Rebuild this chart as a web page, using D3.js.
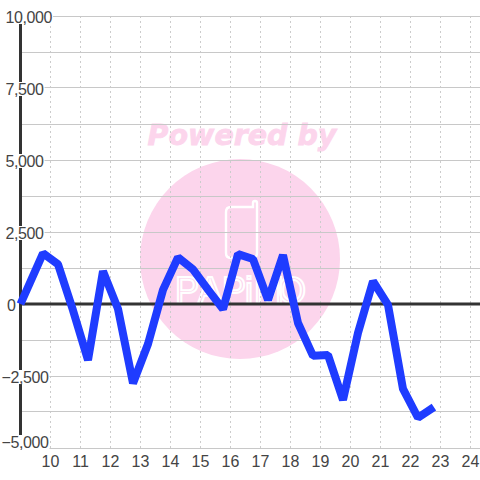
<!DOCTYPE html>
<html><head><meta charset="utf-8">
<style>html,body{margin:0;padding:0;background:#fff}svg{display:block}</style>
<script src="https://cdn.jsdelivr.net/npm/d3@7/dist/d3.min.js"></script></head>
<body><svg id="c" width="480" height="480"></svg>
<script>
const xTicks=[10,11,12,13,14,15,16,17,18,19,20,21,22,23,24];
const yLabels=[10000,7500,5000,2500,0,-2500,-5000];
const yGrid=[10000,8750,7500,6250,5000,3750,2500,1250,0,-1250,-2500,-3750,-5000];
const seriesX=[9,9.75,10.25,10.75,11.25,11.75,12.25,12.75,13.25,13.75,14.25,14.75,15.25,15.75,16.25,16.75,17.25,17.75,18.25,18.75,19.25,19.75,20.25,20.75,21.25,21.75,22.25,22.78];
const seriesY=[0,1760,1380,-220,-1950,1140,-170,-2750,-1390,490,1620,1200,500,-180,1730,1560,140,1700,-660,-1800,-1770,-3330,-1000,790,-30,-2950,-3950,-3580];
const x=d3.scaleLinear().domain([10,24]).range([50.5,470.5]);
const y=d3.scaleLinear().domain([-5000,10000]).range([448,16]);
const svg=d3.select('#c');
const fmt=d3.format(',');
const wm=svg.append('g');
wm.append('circle').attr('cx',240).attr('cy',259).attr('r',100).attr('fill','#fcd5ec');
wm.append('text').attr('x',242).attr('y',145).attr('text-anchor','middle').attr('fill','#fcd5ec').attr('stroke','#fcd5ec').attr('stroke-width',0.8)
 .attr('font-family','DejaVu Sans').attr('font-weight','bold').attr('font-style','italic').attr('font-size',28.5).text('Powered by');
wm.append('path').attr('d','M231,207 H253 V203 Q253,201 255,201 Q257,201 257,203 V253 Q257,258 252,258 H231 Q226,258 226,253 V212 Q226,207 231,207 Z')
 .attr('fill','none').attr('stroke','#fff').attr('stroke-width',2.4);
wm.append('text').attr('x','175 198 222 245 254 278').attr('y',303).attr('fill','none').attr('stroke','#fff').attr('stroke-width',2)
 .attr('font-family','Liberation Sans').attr('font-size',36).text('PAPiMO');
svg.append('g').selectAll('line').data(xTicks).join('line').attr('x1',d=>x(d)).attr('x2',d=>x(d)).attr('y1',16).attr('y2',448)
 .attr('stroke','#ccc').attr('stroke-width',1).attr('stroke-dasharray','2 3');
svg.append('g').selectAll('line').data(yGrid).join('line').attr('x1',20).attr('x2',480).attr('y1',d=>Math.floor(y(d))+0.5).attr('y2',d=>Math.floor(y(d))+0.5)
 .attr('stroke','#c8c8c8').attr('stroke-width',1);
svg.append('line').attr('x1',20.5).attr('x2',20.5).attr('y1',16).attr('y2',448).attr('stroke','#333').attr('stroke-width',3);
svg.append('line').attr('x1',20).attr('x2',480).attr('y1',y(0)).attr('y2',y(0)).attr('stroke','#333').attr('stroke-width',3);
const line=d3.line().x((d,i)=>x(seriesX[i])).y(d=>y(d));
svg.append('path').attr('d',line(seriesY)).attr('fill','none').attr('stroke','#1f3cff').attr('stroke-width',8).attr('stroke-linejoin','bevel');
const labs=svg.append('g').attr('font-family','Liberation Sans').attr('font-size',16).attr('fill','#444');
yLabels.forEach(v=>{
  const cy=v===-5000?442:y(v)+1;
  const sx=v<0?1.5:v===0?7:5.5;
  const g=labs.append('g');
  const r=g.append('rect').attr('fill','#fff');
  const t=g.append('text').attr('x',sx).attr('y',cy+5.5).attr('letter-spacing',-0.4).text(fmt(v));
  const w=t.node().getComputedTextLength();
  if(v!==0) r.attr('x',0).attr('y',cy-7).attr('width',sx+w+1).attr('height',14);
});
labs.selectAll('.xl').data(xTicks).join('text').attr('class','xl').attr('x',d=>x(d)).attr('y',466.5).attr('text-anchor','middle').text(d=>d);
</script></body></html>
